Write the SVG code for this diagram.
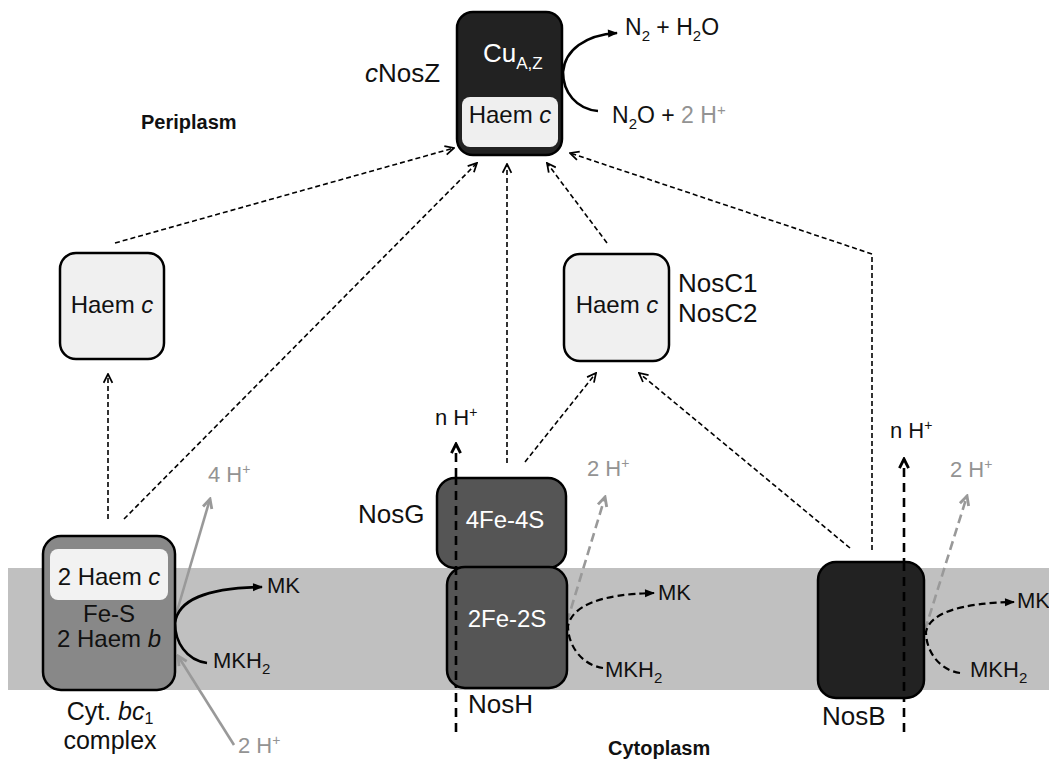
<svg xmlns="http://www.w3.org/2000/svg" width="1049" height="766" viewBox="0 0 1049 766">
  <style>
    text { font-family: "Liberation Sans", Arial, sans-serif; fill: #111; }
    .lbl { font-size: 26px; }
    .inb { font-size: 24px; text-anchor: middle; }
    .wt { fill: #fff; }
    .sm { font-size: 22px; }
    .gr { fill: #939393; }
    .bold { font-size: 20px; font-weight: bold; }
    .box { stroke: #000; stroke-width: 2.5; }
    .e { fill: none; stroke: #000; stroke-width: 1.6; stroke-dasharray: 5 3; marker-end: url(#open); }
    .p { fill: none; stroke: #000; stroke-width: 2.6; stroke-dasharray: 9 6; marker-end: url(#openThick); }
    .g { fill: none; stroke: #999; stroke-width: 2.6; stroke-dasharray: 9 5; marker-end: url(#openGray); }
    .gs { fill: none; stroke: #999; stroke-width: 2.6; marker-end: url(#openGray); }
    .mk { fill: none; stroke: #000; stroke-width: 2.2; stroke-dasharray: 7 4; marker-end: url(#solid); }
    .mks { fill: none; stroke: #000; stroke-width: 2.6; marker-end: url(#solid); }
  </style>
  <defs>
    <marker id="open" viewBox="0 0 10 10" refX="9" refY="5" markerWidth="11" markerHeight="11" markerUnits="userSpaceOnUse" orient="auto">
      <path d="M1,1 L9,5 L1,9" fill="none" stroke="#000" stroke-width="1.6"/>
    </marker>
    <marker id="openThick" viewBox="0 0 10 10" refX="8.5" refY="5" markerWidth="13" markerHeight="13" markerUnits="userSpaceOnUse" orient="auto">
      <path d="M1.5,1.5 L8.5,5 L1.5,8.5" fill="none" stroke="#000" stroke-width="2.2"/>
    </marker>
    <marker id="openGray" viewBox="0 0 10 10" refX="8.5" refY="5" markerWidth="13" markerHeight="13" markerUnits="userSpaceOnUse" orient="auto">
      <path d="M1.5,1.5 L8.5,5 L1.5,8.5" fill="none" stroke="#999" stroke-width="2.2"/>
    </marker>
    <marker id="solid" viewBox="0 0 10 10" refX="9" refY="5" markerWidth="12" markerHeight="10" markerUnits="userSpaceOnUse" orient="auto">
      <path d="M0,1 L10,5 L0,9 Z" fill="#000"/>
    </marker>
  </defs>

  <rect width="1049" height="766" fill="#fff"/>

  <!-- membrane band -->
  <rect id="membrane" x="8" y="568" width="1041" height="122" fill="#c0c0c0"/>

  <text class="bold" x="141" y="129">Periplasm</text>
  <text class="bold" x="608" y="755">Cytoplasm</text>

  <!-- electron / proton connectors -->
  <g id="connectors">
    <path class="e" d="M115,243 L454,148"/>
    <path class="e" d="M124,519 L477,163"/>
    <path class="e" d="M108,519 L108,374"/>
    <path class="e" d="M507,463 L507,164"/>
    <path class="e" d="M525,462 L596,373"/>
    <path class="e" d="M607,243 L547,163"/>
    <path class="e" d="M850,548 L639,373"/>
    <path class="e" d="M872,550 L872,254 L570,153"/>

    <path class="p" d="M456,732 L456,444"/>
    <path class="p" d="M904,732 L904,459"/>

    <path class="g" d="M567,622 L605,497"/>
    <path class="g" d="M925,630 L967,496"/>

    <path class="gs" d="M175,618 L210,499"/>
    <path class="gs" d="M234,745 L178,656"/>

    <path class="mks" d="M207,663 C186,660 175,642 175,623 C178,600 205,588 262,587"/>
    <path class="mk" d="M603,668 C582,665 568,646 568,626 C572,606 600,594 654,593"/>
    <path class="mk" d="M960,673 C939,670 926,651 926,632 C930,613 960,603 1014,602"/>
    <path class="mks" d="M598,111 C576,109 563,92 563,72 C565,50 585,35 617,33"/>
  </g>

  <!-- cNosZ -->
  <g id="cNosZ">
    <rect class="box" x="457" y="12" width="105" height="143" rx="16" fill="#222" stroke-width="3"/>
    <rect x="462" y="97" width="96" height="50" rx="8" fill="#efefef"/>
    <text class="wt" x="483" y="62" font-size="26">Cu<tspan font-size="17" dy="7">A,Z</tspan></text>
    <text class="inb" x="510" y="123">Haem <tspan font-style="italic">c</tspan></text>
    <text class="lbl" x="365" y="82"><tspan font-style="italic">c</tspan>NosZ</text>
    <text x="625" y="35" font-size="23">N<tspan font-size="15" dy="6">2</tspan><tspan dy="-6"> + H</tspan><tspan font-size="15" dy="6">2</tspan><tspan dy="-6">O</tspan></text>
    <text x="612" y="123" font-size="23">N<tspan font-size="15" dy="6">2</tspan><tspan dy="-6">O + </tspan><tspan class="gr">2 H</tspan><tspan class="gr" font-size="15" dy="-8">+</tspan></text>
  </g>

  <!-- soluble haem c carrier -->
  <g id="haemC-left">
    <rect class="box" x="60" y="253" width="104" height="106" rx="16" fill="#f0f0f0"/>
    <text class="inb" x="112" y="313">Haem <tspan font-style="italic">c</tspan></text>
  </g>

  <!-- NosC1 / NosC2 -->
  <g id="NosC">
    <rect class="box" x="564" y="254" width="105" height="107" rx="16" fill="#f0f0f0"/>
    <text class="inb" x="617" y="313">Haem <tspan font-style="italic">c</tspan></text>
    <text class="lbl" x="678" y="292">NosC1</text>
    <text class="lbl" x="678" y="322">NosC2</text>
  </g>

  <!-- cytochrome bc1 complex -->
  <g id="bc1">
    <rect class="box" x="43" y="536" width="132" height="154" rx="18" fill="#888"/>
    <rect x="50" y="549" width="118" height="51" rx="8" fill="#f2f2f2"/>
    <text class="inb" x="109" y="585">2 Haem <tspan font-style="italic">c</tspan></text>
    <text class="inb" x="109" y="622">Fe-S</text>
    <text class="inb" x="109" y="647">2 Haem <tspan font-style="italic">b</tspan></text>
    <text x="110" y="720" font-size="25" text-anchor="middle">Cyt. <tspan font-style="italic">bc</tspan><tspan font-size="16" dy="4">1</tspan></text>
    <text x="110" y="749" font-size="25" text-anchor="middle">complex</text>
    <text class="sm gr" x="208" y="482">4 H<tspan font-size="14" dy="-8">+</tspan></text>
    <text class="sm gr" x="238" y="753">2 H<tspan font-size="14" dy="-8">+</tspan></text>
    <text class="sm" x="267" y="593">MK</text>
    <text class="sm" x="213" y="668">MKH<tspan font-size="15" dy="6">2</tspan></text>
  </g>

  <!-- NosG / NosH -->
  <g id="NosGH">
    <rect class="box" x="437" y="478" width="129" height="90" rx="18" fill="#555"/>
    <rect class="box" x="447" y="567" width="120" height="121" rx="18" fill="#555"/>
    <path d="M456,478 L456,688" fill="none" stroke="#000" stroke-width="2.6" stroke-dasharray="9 6" stroke-dashoffset="2"/>
    <text class="inb wt" x="505" y="528">4Fe-4S</text>
    <text class="inb wt" x="507" y="627">2Fe-2S</text>
    <text class="lbl" x="358" y="523">NosG</text>
    <text class="lbl" x="468" y="713">NosH</text>
    <text class="sm" x="435" y="425">n H<tspan font-size="14" dy="-8">+</tspan></text>
    <text class="sm gr" x="587" y="476">2 H<tspan font-size="14" dy="-8">+</tspan></text>
    <text class="sm" x="658" y="600">MK</text>
    <text class="sm" x="605" y="677">MKH<tspan font-size="15" dy="6">2</tspan></text>
  </g>

  <!-- NosB -->
  <g id="NosB">
    <rect class="box" x="818" y="562" width="106" height="136" rx="18" fill="#222"/>
    <path d="M904,562 L904,698" fill="none" stroke="#000" stroke-width="2.6" stroke-dasharray="9 6"/>
    <text class="lbl" x="822" y="725">NosB</text>
    <text class="sm" x="890" y="438">n H<tspan font-size="14" dy="-8">+</tspan></text>
    <text class="sm gr" x="950" y="477">2 H<tspan font-size="14" dy="-8">+</tspan></text>
    <text class="sm" x="1017" y="608">MK</text>
    <text class="sm" x="970" y="677">MKH<tspan font-size="15" dy="6">2</tspan></text>
  </g>
</svg>
